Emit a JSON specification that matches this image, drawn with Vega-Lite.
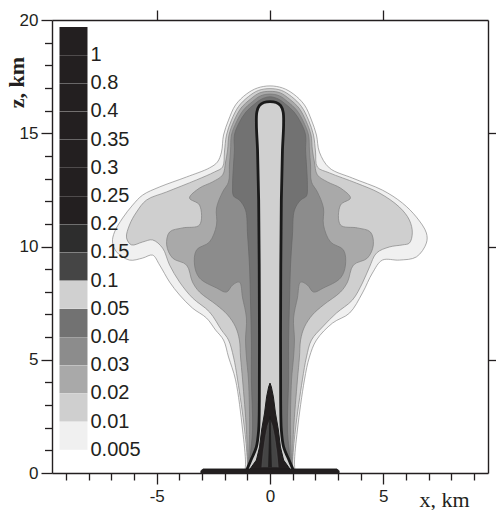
{
"$schema": "https://vega.github.io/schema/vega-lite/v6.json",
"width": 436, "height": 453,
"autosize": {"type": "none"},
"padding": {"left": 52, "top": 20, "right": 8, "bottom": 37},
"background": "white",
"config": {
  "view": {"stroke": null},
  "font": "Liberation Sans",
  "axis": {"grid": false, "domainColor": "#231f20", "domainWidth": 1.4, "tickColor": "#231f20", "tickWidth": 1.3, "labelColor": "#231f20", "labelFont": "Liberation Sans", "labelFontSize": 17, "titleColor": "#231f20", "labelFlush": false, "labelOverlap": false}
},
"datasets": {"poly": [
{"id":"L1","level":"0.005","x":-1.12,"z":0},{"id":"L1","level":"0.005","x":-1.08,"z":0.44},{"id":"L1","level":"0.005","x":-1.21,"z":1.9},{"id":"L1","level":"0.005","x":-1.52,"z":4.11},{"id":"L1","level":"0.005","x":-1.83,"z":5.12},{"id":"L1","level":"0.005","x":-2.05,"z":5.87},{"id":"L1","level":"0.005","x":-2.4,"z":6.31},{"id":"L1","level":"0.005","x":-2.8,"z":6.84},{"id":"L1","level":"0.005","x":-3.42,"z":7.28},{"id":"L1","level":"0.005","x":-3.99,"z":7.86},{"id":"L1","level":"0.005","x":-4.43,"z":8.43},{"id":"L1","level":"0.005","x":-4.87,"z":9.18},{"id":"L1","level":"0.005","x":-5.18,"z":9.62},{"id":"L1","level":"0.005","x":-5.62,"z":9.49},{"id":"L1","level":"0.005","x":-6.2,"z":9.4},{"id":"L1","level":"0.005","x":-6.77,"z":9.76},{"id":"L1","level":"0.005","x":-6.95,"z":10.2},{"id":"L1","level":"0.005","x":-6.86,"z":10.64},{"id":"L1","level":"0.005","x":-6.5,"z":11.26},{"id":"L1","level":"0.005","x":-6.06,"z":11.83},{"id":"L1","level":"0.005","x":-5.62,"z":12.27},{"id":"L1","level":"0.005","x":-4.87,"z":12.63},{"id":"L1","level":"0.005","x":-3.68,"z":13.07},{"id":"L1","level":"0.005","x":-2.67,"z":13.47},{"id":"L1","level":"0.005","x":-2.32,"z":13.73},{"id":"L1","level":"0.005","x":-2.14,"z":14.17},{"id":"L1","level":"0.005","x":-2.05,"z":14.92},{"id":"L1","level":"0.005","x":-1.83,"z":15.58},{"id":"L1","level":"0.005","x":-1.52,"z":16.25},{"id":"L1","level":"0.005","x":-1.04,"z":16.73},{"id":"L1","level":"0.005","x":-0.55,"z":17.0},{"id":"L1","level":"0.005","x":0,"z":17.09},{"id":"L1","level":"0.005","x":0.55,"z":17.0},{"id":"L1","level":"0.005","x":1.04,"z":16.73},{"id":"L1","level":"0.005","x":1.52,"z":16.25},{"id":"L1","level":"0.005","x":1.83,"z":15.58},{"id":"L1","level":"0.005","x":2.05,"z":14.92},{"id":"L1","level":"0.005","x":2.18,"z":14.17},{"id":"L1","level":"0.005","x":2.62,"z":13.47},{"id":"L1","level":"0.005","x":3.64,"z":13.02},{"id":"L1","level":"0.005","x":4.96,"z":12.49},{"id":"L1","level":"0.005","x":5.84,"z":11.92},{"id":"L1","level":"0.005","x":6.46,"z":11.3},{"id":"L1","level":"0.005","x":6.9,"z":10.6},{"id":"L1","level":"0.005","x":6.9,"z":10.15},{"id":"L1","level":"0.005","x":6.46,"z":9.54},{"id":"L1","level":"0.005","x":5.71,"z":9.4},{"id":"L1","level":"0.005","x":4.96,"z":9.4},{"id":"L1","level":"0.005","x":4.52,"z":8.83},{"id":"L1","level":"0.005","x":4.08,"z":7.95},{"id":"L1","level":"0.005","x":3.51,"z":7.06},{"id":"L1","level":"0.005","x":2.76,"z":6.62},{"id":"L1","level":"0.005","x":2.05,"z":5.87},{"id":"L1","level":"0.005","x":1.74,"z":5.12},{"id":"L1","level":"0.005","x":1.52,"z":4.11},{"id":"L1","level":"0.005","x":1.21,"z":1.9},{"id":"L1","level":"0.005","x":1.08,"z":0.44},{"id":"L1","level":"0.005","x":1.12,"z":0},
{"id":"L2","level":"0.01","x":-1.04,"z":0},{"id":"L2","level":"0.01","x":-1.0,"z":0.44},{"id":"L2","level":"0.01","x":-1.12,"z":1.9},{"id":"L2","level":"0.01","x":-1.43,"z":4.11},{"id":"L2","level":"0.01","x":-1.61,"z":5.12},{"id":"L2","level":"0.01","x":-1.83,"z":5.87},{"id":"L2","level":"0.01","x":-2.14,"z":6.31},{"id":"L2","level":"0.01","x":-2.67,"z":7.11},{"id":"L2","level":"0.01","x":-3.42,"z":7.73},{"id":"L2","level":"0.01","x":-3.99,"z":8.43},{"id":"L2","level":"0.01","x":-4.43,"z":9.18},{"id":"L2","level":"0.01","x":-4.74,"z":9.93},{"id":"L2","level":"0.01","x":-5.18,"z":10.29},{"id":"L2","level":"0.01","x":-5.62,"z":10.2},{"id":"L2","level":"0.01","x":-6.11,"z":10.07},{"id":"L2","level":"0.01","x":-6.33,"z":10.38},{"id":"L2","level":"0.01","x":-6.2,"z":10.95},{"id":"L2","level":"0.01","x":-5.89,"z":11.52},{"id":"L2","level":"0.01","x":-5.45,"z":12.05},{"id":"L2","level":"0.01","x":-4.56,"z":12.41},{"id":"L2","level":"0.01","x":-3.24,"z":12.94},{"id":"L2","level":"0.01","x":-2.45,"z":13.29},{"id":"L2","level":"0.01","x":-2.09,"z":13.51},{"id":"L2","level":"0.01","x":-2.01,"z":14.17},{"id":"L2","level":"0.01","x":-1.92,"z":14.92},{"id":"L2","level":"0.01","x":-1.7,"z":15.58},{"id":"L2","level":"0.01","x":-1.39,"z":16.18},{"id":"L2","level":"0.01","x":-0.95,"z":16.62},{"id":"L2","level":"0.01","x":-0.51,"z":16.89},{"id":"L2","level":"0.01","x":0,"z":16.97},{"id":"L2","level":"0.01","x":0.51,"z":16.89},{"id":"L2","level":"0.01","x":0.95,"z":16.62},{"id":"L2","level":"0.01","x":1.39,"z":16.18},{"id":"L2","level":"0.01","x":1.7,"z":15.58},{"id":"L2","level":"0.01","x":1.92,"z":14.92},{"id":"L2","level":"0.01","x":2.01,"z":14.17},{"id":"L2","level":"0.01","x":2.09,"z":13.51},{"id":"L2","level":"0.01","x":2.62,"z":13.25},{"id":"L2","level":"0.01","x":3.81,"z":12.8},{"id":"L2","level":"0.01","x":4.83,"z":12.36},{"id":"L2","level":"0.01","x":5.71,"z":11.74},{"id":"L2","level":"0.01","x":6.15,"z":11.17},{"id":"L2","level":"0.01","x":6.28,"z":10.6},{"id":"L2","level":"0.01","x":6.15,"z":10.15},{"id":"L2","level":"0.01","x":5.84,"z":10.07},{"id":"L2","level":"0.01","x":5.27,"z":9.98},{"id":"L2","level":"0.01","x":4.7,"z":9.71},{"id":"L2","level":"0.01","x":4.39,"z":9.09},{"id":"L2","level":"0.01","x":4.08,"z":8.39},{"id":"L2","level":"0.01","x":3.64,"z":7.64},{"id":"L2","level":"0.01","x":2.93,"z":7.06},{"id":"L2","level":"0.01","x":2.32,"z":6.45},{"id":"L2","level":"0.01","x":1.83,"z":5.87},{"id":"L2","level":"0.01","x":1.61,"z":5.12},{"id":"L2","level":"0.01","x":1.43,"z":4.11},{"id":"L2","level":"0.01","x":1.12,"z":1.9},{"id":"L2","level":"0.01","x":1.0,"z":0.44},{"id":"L2","level":"0.01","x":1.04,"z":0},
{"id":"L3","level":"0.02","x":-0.99,"z":0},{"id":"L3","level":"0.02","x":-0.99,"z":0.44},{"id":"L3","level":"0.02","x":-1.04,"z":1.9},{"id":"L3","level":"0.02","x":-1.21,"z":4.11},{"id":"L3","level":"0.02","x":-1.3,"z":5.12},{"id":"L3","level":"0.02","x":-1.35,"z":5.87},{"id":"L3","level":"0.02","x":-1.52,"z":6.45},{"id":"L3","level":"0.02","x":-1.87,"z":6.98},{"id":"L3","level":"0.02","x":-2.36,"z":7.42},{"id":"L3","level":"0.02","x":-3.11,"z":7.99},{"id":"L3","level":"0.02","x":-3.42,"z":8.43},{"id":"L3","level":"0.02","x":-3.68,"z":9.18},{"id":"L3","level":"0.02","x":-4.3,"z":9.49},{"id":"L3","level":"0.02","x":-4.56,"z":10.07},{"id":"L3","level":"0.02","x":-4.43,"z":10.64},{"id":"L3","level":"0.02","x":-3.86,"z":10.82},{"id":"L3","level":"0.02","x":-3.11,"z":10.95},{"id":"L3","level":"0.02","x":-3.11,"z":11.83},{"id":"L3","level":"0.02","x":-3.55,"z":12.14},{"id":"L3","level":"0.02","x":-3.11,"z":12.58},{"id":"L3","level":"0.02","x":-2.54,"z":12.85},{"id":"L3","level":"0.02","x":-2.09,"z":13.16},{"id":"L3","level":"0.02","x":-1.96,"z":13.73},{"id":"L3","level":"0.02","x":-1.87,"z":14.26},{"id":"L3","level":"0.02","x":-1.81,"z":14.92},{"id":"L3","level":"0.02","x":-1.59,"z":15.54},{"id":"L3","level":"0.02","x":-1.28,"z":16.11},{"id":"L3","level":"0.02","x":-0.86,"z":16.51},{"id":"L3","level":"0.02","x":-0.46,"z":16.78},{"id":"L3","level":"0.02","x":0,"z":16.85},{"id":"L3","level":"0.02","x":0.46,"z":16.78},{"id":"L3","level":"0.02","x":0.86,"z":16.51},{"id":"L3","level":"0.02","x":1.28,"z":16.11},{"id":"L3","level":"0.02","x":1.59,"z":15.54},{"id":"L3","level":"0.02","x":1.81,"z":14.92},{"id":"L3","level":"0.02","x":1.87,"z":14.26},{"id":"L3","level":"0.02","x":1.96,"z":13.73},{"id":"L3","level":"0.02","x":2.09,"z":13.16},{"id":"L3","level":"0.02","x":2.54,"z":12.85},{"id":"L3","level":"0.02","x":3.11,"z":12.58},{"id":"L3","level":"0.02","x":3.55,"z":12.14},{"id":"L3","level":"0.02","x":3.11,"z":11.83},{"id":"L3","level":"0.02","x":3.11,"z":10.95},{"id":"L3","level":"0.02","x":3.86,"z":10.82},{"id":"L3","level":"0.02","x":4.43,"z":10.64},{"id":"L3","level":"0.02","x":4.56,"z":10.07},{"id":"L3","level":"0.02","x":4.3,"z":9.49},{"id":"L3","level":"0.02","x":3.68,"z":9.18},{"id":"L3","level":"0.02","x":3.42,"z":8.43},{"id":"L3","level":"0.02","x":3.11,"z":7.99},{"id":"L3","level":"0.02","x":2.36,"z":7.42},{"id":"L3","level":"0.02","x":1.87,"z":6.98},{"id":"L3","level":"0.02","x":1.52,"z":6.45},{"id":"L3","level":"0.02","x":1.35,"z":5.87},{"id":"L3","level":"0.02","x":1.3,"z":5.12},{"id":"L3","level":"0.02","x":1.21,"z":4.11},{"id":"L3","level":"0.02","x":1.04,"z":1.9},{"id":"L3","level":"0.02","x":0.99,"z":0.44},{"id":"L3","level":"0.02","x":0.99,"z":0},
{"id":"L4","level":"0.03","x":-0.95,"z":0},{"id":"L4","level":"0.03","x":-0.95,"z":0.44},{"id":"L4","level":"0.03","x":-0.9,"z":1.9},{"id":"L4","level":"0.03","x":-0.95,"z":4.11},{"id":"L4","level":"0.03","x":-1.04,"z":5.12},{"id":"L4","level":"0.03","x":-1.08,"z":5.87},{"id":"L4","level":"0.03","x":-1.04,"z":6.84},{"id":"L4","level":"0.03","x":-1.21,"z":7.73},{"id":"L4","level":"0.03","x":-1.35,"z":8.43},{"id":"L4","level":"0.03","x":-1.65,"z":8.3},{"id":"L4","level":"0.03","x":-1.92,"z":7.99},{"id":"L4","level":"0.03","x":-2.36,"z":8.17},{"id":"L4","level":"0.03","x":-3.11,"z":8.61},{"id":"L4","level":"0.03","x":-3.33,"z":9.18},{"id":"L4","level":"0.03","x":-3.24,"z":9.85},{"id":"L4","level":"0.03","x":-2.67,"z":10.2},{"id":"L4","level":"0.03","x":-2.36,"z":10.95},{"id":"L4","level":"0.03","x":-2.36,"z":11.7},{"id":"L4","level":"0.03","x":-2.09,"z":12.41},{"id":"L4","level":"0.03","x":-1.83,"z":12.85},{"id":"L4","level":"0.03","x":-1.79,"z":13.6},{"id":"L4","level":"0.03","x":-1.74,"z":14.26},{"id":"L4","level":"0.03","x":-1.7,"z":14.92},{"id":"L4","level":"0.03","x":-1.48,"z":15.5},{"id":"L4","level":"0.03","x":-1.17,"z":16.03},{"id":"L4","level":"0.03","x":-0.77,"z":16.4},{"id":"L4","level":"0.03","x":-0.42,"z":16.65},{"id":"L4","level":"0.03","x":0,"z":16.73},{"id":"L4","level":"0.03","x":0.42,"z":16.65},{"id":"L4","level":"0.03","x":0.77,"z":16.4},{"id":"L4","level":"0.03","x":1.17,"z":16.03},{"id":"L4","level":"0.03","x":1.48,"z":15.5},{"id":"L4","level":"0.03","x":1.7,"z":14.92},{"id":"L4","level":"0.03","x":1.74,"z":14.26},{"id":"L4","level":"0.03","x":1.79,"z":13.6},{"id":"L4","level":"0.03","x":1.83,"z":12.85},{"id":"L4","level":"0.03","x":2.09,"z":12.41},{"id":"L4","level":"0.03","x":2.36,"z":11.7},{"id":"L4","level":"0.03","x":2.36,"z":10.95},{"id":"L4","level":"0.03","x":2.67,"z":10.2},{"id":"L4","level":"0.03","x":3.24,"z":9.85},{"id":"L4","level":"0.03","x":3.33,"z":9.18},{"id":"L4","level":"0.03","x":3.11,"z":8.61},{"id":"L4","level":"0.03","x":2.36,"z":8.17},{"id":"L4","level":"0.03","x":1.92,"z":7.99},{"id":"L4","level":"0.03","x":1.65,"z":8.3},{"id":"L4","level":"0.03","x":1.35,"z":8.43},{"id":"L4","level":"0.03","x":1.21,"z":7.73},{"id":"L4","level":"0.03","x":1.04,"z":6.84},{"id":"L4","level":"0.03","x":1.08,"z":5.87},{"id":"L4","level":"0.03","x":1.04,"z":5.12},{"id":"L4","level":"0.03","x":0.95,"z":4.11},{"id":"L4","level":"0.03","x":0.9,"z":1.9},{"id":"L4","level":"0.03","x":0.95,"z":0.44},{"id":"L4","level":"0.03","x":0.95,"z":0},
{"id":"L5","level":"0.04","x":-0.9,"z":0},{"id":"L5","level":"0.04","x":-0.9,"z":0.44},{"id":"L5","level":"0.04","x":-0.77,"z":1.9},{"id":"L5","level":"0.04","x":-0.82,"z":4.11},{"id":"L5","level":"0.04","x":-0.82,"z":5.87},{"id":"L5","level":"0.04","x":-0.86,"z":7.55},{"id":"L5","level":"0.04","x":-0.9,"z":9.05},{"id":"L5","level":"0.04","x":-0.99,"z":10.51},{"id":"L5","level":"0.04","x":-1.08,"z":11.61},{"id":"L5","level":"0.04","x":-1.35,"z":12.05},{"id":"L5","level":"0.04","x":-1.61,"z":12.23},{"id":"L5","level":"0.04","x":-1.65,"z":12.72},{"id":"L5","level":"0.04","x":-1.61,"z":13.6},{"id":"L5","level":"0.04","x":-1.57,"z":14.26},{"id":"L5","level":"0.04","x":-1.57,"z":14.92},{"id":"L5","level":"0.04","x":-1.37,"z":15.45},{"id":"L5","level":"0.04","x":-1.06,"z":15.94},{"id":"L5","level":"0.04","x":-0.68,"z":16.29},{"id":"L5","level":"0.04","x":-0.37,"z":16.51},{"id":"L5","level":"0.04","x":0,"z":16.61},{"id":"L5","level":"0.04","x":0.37,"z":16.51},{"id":"L5","level":"0.04","x":0.68,"z":16.29},{"id":"L5","level":"0.04","x":1.06,"z":15.94},{"id":"L5","level":"0.04","x":1.37,"z":15.45},{"id":"L5","level":"0.04","x":1.57,"z":14.92},{"id":"L5","level":"0.04","x":1.57,"z":14.26},{"id":"L5","level":"0.04","x":1.61,"z":13.6},{"id":"L5","level":"0.04","x":1.65,"z":12.72},{"id":"L5","level":"0.04","x":1.61,"z":12.23},{"id":"L5","level":"0.04","x":1.35,"z":12.05},{"id":"L5","level":"0.04","x":1.08,"z":11.61},{"id":"L5","level":"0.04","x":0.99,"z":10.51},{"id":"L5","level":"0.04","x":0.9,"z":9.05},{"id":"L5","level":"0.04","x":0.86,"z":7.55},{"id":"L5","level":"0.04","x":0.82,"z":5.87},{"id":"L5","level":"0.04","x":0.82,"z":4.11},{"id":"L5","level":"0.04","x":0.77,"z":1.9},{"id":"L5","level":"0.04","x":0.9,"z":0.44},{"id":"L5","level":"0.04","x":0.9,"z":0},
{"id":"col","level":"0.05","x":-1.08,"z":0},{"id":"col","level":"0.05","x":-0.99,"z":0.22},{"id":"col","level":"0.05","x":-0.8,"z":0.66},{"id":"col","level":"0.05","x":-0.6,"z":1.15},{"id":"col","level":"0.05","x":-0.5,"z":1.9},{"id":"col","level":"0.05","x":-0.47,"z":3.22},{"id":"col","level":"0.05","x":-0.47,"z":7.64},{"id":"col","level":"0.05","x":-0.5,"z":12.05},{"id":"col","level":"0.05","x":-0.55,"z":14.26},{"id":"col","level":"0.05","x":-0.6,"z":15.36},{"id":"col","level":"0.05","x":-0.58,"z":15.94},{"id":"col","level":"0.05","x":-0.47,"z":16.22},{"id":"col","level":"0.05","x":-0.27,"z":16.36},{"id":"col","level":"0.05","x":0,"z":16.4},{"id":"col","level":"0.05","x":0.27,"z":16.36},{"id":"col","level":"0.05","x":0.47,"z":16.22},{"id":"col","level":"0.05","x":0.58,"z":15.94},{"id":"col","level":"0.05","x":0.6,"z":15.36},{"id":"col","level":"0.05","x":0.55,"z":14.26},{"id":"col","level":"0.05","x":0.5,"z":12.05},{"id":"col","level":"0.05","x":0.47,"z":7.64},{"id":"col","level":"0.05","x":0.47,"z":3.22},{"id":"col","level":"0.05","x":0.5,"z":1.9},{"id":"col","level":"0.05","x":0.6,"z":1.15},{"id":"col","level":"0.05","x":0.8,"z":0.66},{"id":"col","level":"0.05","x":0.99,"z":0.22},{"id":"col","level":"0.05","x":1.08,"z":0},
{"id":"cone","level":"0.2","x":-1.0,"z":0},{"id":"cone","level":"0.2","x":-0.82,"z":0.26},{"id":"cone","level":"0.2","x":-0.6,"z":0.57},{"id":"cone","level":"0.2","x":-0.46,"z":1.15},{"id":"cone","level":"0.2","x":-0.37,"z":1.9},{"id":"cone","level":"0.2","x":-0.24,"z":2.65},{"id":"cone","level":"0.2","x":-0.15,"z":3.36},{"id":"cone","level":"0.2","x":-0.06,"z":3.8},{"id":"cone","level":"0.2","x":0,"z":3.97},{"id":"cone","level":"0.2","x":0.06,"z":3.8},{"id":"cone","level":"0.2","x":0.15,"z":3.36},{"id":"cone","level":"0.2","x":0.24,"z":2.65},{"id":"cone","level":"0.2","x":0.37,"z":1.9},{"id":"cone","level":"0.2","x":0.46,"z":1.15},{"id":"cone","level":"0.2","x":0.6,"z":0.57},{"id":"cone","level":"0.2","x":0.82,"z":0.26},{"id":"cone","level":"0.2","x":1.0,"z":0},
{"id":"coneIn","level":"0.1","x":-0.36,"z":0.25},{"id":"coneIn","level":"0.1","x":-0.3,"z":0.9},{"id":"coneIn","level":"0.1","x":-0.2,"z":1.6},{"id":"coneIn","level":"0.1","x":-0.1,"z":2.1},{"id":"coneIn","level":"0.1","x":0,"z":2.35},{"id":"coneIn","level":"0.1","x":0.1,"z":2.1},{"id":"coneIn","level":"0.1","x":0.2,"z":1.6},{"id":"coneIn","level":"0.1","x":0.3,"z":0.9},{"id":"coneIn","level":"0.1","x":0.36,"z":0.25},
{"id":"spike","level":"0.2","x":-0.06,"z":0.25},{"id":"spike","level":"0.2","x":-0.02,"z":1.8},{"id":"spike","level":"0.2","x":0,"z":2.5},{"id":"spike","level":"0.2","x":0.02,"z":1.8},{"id":"spike","level":"0.2","x":0.06,"z":0.25},
{"id":"base","level":"0.2","x":-3.05,"z":0},{"id":"base","level":"0.2","x":-3.05,"z":0.1},{"id":"base","level":"0.2","x":-2.95,"z":0.18},{"id":"base","level":"0.2","x":2.95,"z":0.18},{"id":"base","level":"0.2","x":3.05,"z":0.1},{"id":"base","level":"0.2","x":3.05,"z":0}
]},
"data": {"name": "poly"},
"transform": [{"window": [{"op": "row_number", "as": "i"}], "groupby": ["id"]}],
"layer": [
  {
    "encoding": {
      "x": {"field": "x", "type": "quantitative", "scale": {"domain": [-9.62, 9.62], "nice": false, "zero": false},
        "axis": {"orient": "bottom", "values": [-9,-8,-7,-6,-5,-4,-3,-2,-1,0,1,2,3,4,5,6,7,8,9],
          "labelExpr": "datum.value % 5 === 0 ? '' + datum.value : ''",
          "tickSize": {"condition": {"test": "datum.value % 5 === 0", "value": 11}, "value": 7},
          "labelPadding": 4,
          "title": "x, km", "titleFont": "Liberation Serif", "titleFontSize": 22, "titleFontWeight": "normal",
          "titleX": 392, "titleY": 33, "titleAlign": "center", "titleBaseline": "alphabetic"}},
      "y": {"field": "z", "type": "quantitative", "scale": {"domain": [0, 20], "nice": false, "zero": false},
        "axis": {"orient": "left", "values": [0,1,2,3,4,5,6,7,8,9,10,11,12,13,14,15,16,17,18,19,20],
          "labelExpr": "datum.value % 5 === 0 ? '' + datum.value : ''",
          "tickSize": {"condition": {"test": "datum.value % 5 === 0", "value": 11}, "value": 7.5},
          "labelPadding": 3,
          "title": "z, km", "titleFont": "Liberation Serif", "titleFontSize": 22, "titleFontWeight": "bold",
          "titleAngle": 270, "titleX": -36, "titleY": 62, "titleAlign": "center", "titleBaseline": "middle"}},
      "fill": {"field": "level", "type": "nominal",
        "scale": {"domain": ["1","0.8","0.4","0.35","0.3","0.25","0.2","0.15","0.1","0.05","0.04","0.03","0.02","0.01","0.005"],
                  "range": ["#231f20","#231f20","#231f20","#231f20","#231f20","#231f20","#231f20","#2d2d2d","#454545","#d0d0d0","#727272","#8c8c8c","#a9a9a9","#cfcfcf","#f0f0f0"]},
        "legend": {"orient": "none", "legendX": 7.5, "legendY": 7, "title": null, "symbolType": "square", "symbolSize": 784,
          "symbolStrokeColor": "#a0a0a0", "symbolStrokeWidth": 0, "symbolOpacity": 1, "rowPadding": 0.2, "padding": 0,
          "labelExpr": "''", "labelFontSize": 1, "labelOffset": 0, "zindex": 1}},
      "order": {"field": "i", "type": "quantitative"}
    },
    "layer": [
      {"transform": [{"filter": "datum.id === 'L1'"}], "mark": {"type": "line", "interpolate": "catmull-rom", "stroke": "#8a8a8a", "strokeWidth": 0.7}},
      {"transform": [{"filter": "datum.id === 'L2'"}], "mark": {"type": "line", "interpolate": "catmull-rom", "stroke": "#858585", "strokeWidth": 0.7}},
      {"transform": [{"filter": "datum.id === 'L3'"}], "mark": {"type": "line", "interpolate": "catmull-rom", "stroke": "#808080", "strokeWidth": 0.7}},
      {"transform": [{"filter": "datum.id === 'L4'"}], "mark": {"type": "line", "interpolate": "catmull-rom", "stroke": "#777777", "strokeWidth": 0.7}},
      {"transform": [{"filter": "datum.id === 'L5'"}], "mark": {"type": "line", "interpolate": "catmull-rom", "stroke": "#666666", "strokeWidth": 0.7}},
      {"transform": [{"filter": "datum.id === 'col'"}], "mark": {"type": "line", "interpolate": "catmull-rom", "stroke": "#1a1a1a", "strokeWidth": 2.8}},
      {"transform": [{"filter": "datum.id === 'cone'"}], "mark": {"type": "line", "stroke": "#1a1a1a", "strokeWidth": 1}},
      {"transform": [{"filter": "datum.id === 'coneIn'"}], "mark": {"type": "line", "stroke": "#555555", "strokeWidth": 0.6}},
      {"transform": [{"filter": "datum.id === 'spike'"}], "mark": {"type": "line", "stroke": "#1a1a1a", "strokeWidth": 0.8}},
      {"transform": [{"filter": "datum.id === 'base'"}], "mark": {"type": "line", "stroke": "#1a1a1a", "strokeWidth": 0.8}}
    ]
  },
  {
    "mark": {"type": "point", "opacity": 0},
    "encoding": {
      "x": {"field": "x", "type": "quantitative", "scale": {"domain": [-9.62, 9.62], "nice": false, "zero": false},
        "axis": {"orient": "top", "values": [-5, 0, 5], "labels": false, "tickSize": 10, "title": null}},
      "y": {"field": "z", "type": "quantitative", "scale": {"domain": [0, 20], "nice": false, "zero": false},
        "axis": {"orient": "right", "values": [5, 10, 15], "labels": false, "tickSize": 10, "title": null}},
      "shape": {"field": "level", "type": "nominal",
        "scale": {"domain": ["1","0.8","0.4","0.35","0.3","0.25","0.2","0.15","0.1","0.05","0.04","0.03","0.02","0.01","0.005",""], "range": ["square"]},
        "legend": {"orient": "none", "legendX": 7.5, "legendY": 21, "title": null, "symbolSize": 784, "symbolOpacity": 0,
          "symbolStrokeWidth": 0, "rowPadding": 0.2, "padding": 0,
          "labelFont": "Liberation Sans", "labelFontSize": 20, "labelColor": "#231f20", "labelOffset": 3, "labelLimit": 0}}
    }
  }
],
"resolve": {"axis": {"x": "independent", "y": "independent"}}
}
